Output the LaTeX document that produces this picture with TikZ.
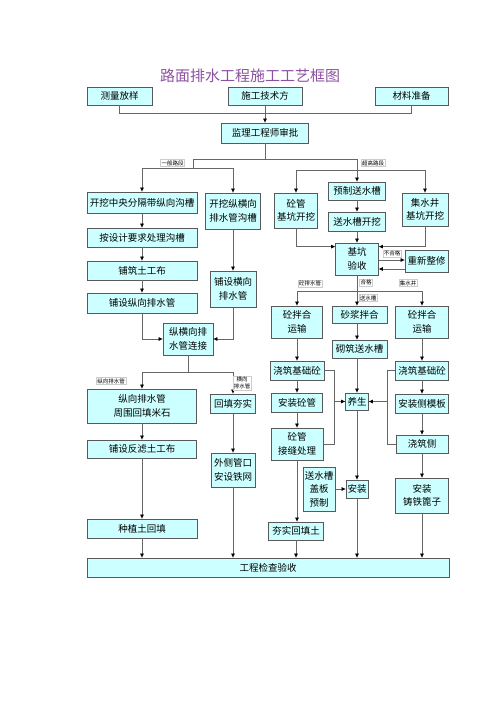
\documentclass[tikz,border=0pt]{standalone}
\usepackage{fontspec}
\usepackage{tikz}
\usetikzlibrary{arrows.meta}
\newfontfamily\cjk{Noto Sans CJK SC}
\definecolor{boxfill}{RGB}{204,255,255}
\definecolor{titlecol}{RGB}{140,80,160}

\begin{document}
\begin{tikzpicture}[x=1pt,y=-1pt,
    box/.style={draw=black!65,fill=boxfill,line width=0.8pt,inner sep=0pt,align=center,
      font=\cjk\fontsize{9.5}{13.5}\selectfont},
    sz/.style 2 args={minimum width=#1pt,minimum height=#2pt},
    lbl/.style={draw=black!20,fill=white,inner sep=1pt,align=center,
      font=\cjk\fontsize{5.5}{6.5}\selectfont},
    ln/.style={draw=black!60,line width=0.7pt},
    arr/.style={ln,-{Triangle[length=4pt,width=3.5pt,color=black]}}]
\useasboundingbox (0,0) rectangle (500,707);

\node[font=\cjk\fontsize{15}{15}\selectfont,text=titlecol] (title) at (250,75.5) {路面排水工程施工工艺框图};

% top row
\node[box,sz={65}{18}] (clfy) at (119.5,96) {测量放样};
\node[box,sz={74}{18}] (jsfa) at (265,96) {施工技术方};
\node[box,sz={73}{18}] (clzb) at (411.5,96) {材料准备};
\node[box,sz={87}{20}] (jlsp) at (265,133) {监理工程师审批};

% left branch
\node[box,sz={110}{21}] (kw1) at (142,202.5) {开挖中央分隔带纵向沟槽};
\node[box,sz={110}{19}] (clgc) at (142,237.5) {按设计要求处理沟槽};
\node[box,sz={110}{19}] (pztg) at (142,270.5) {铺筑土工布};
\node[box,sz={110}{20}] (pszx) at (142,303) {铺设纵向排水管};
\node[box,sz={55}{36}] (kw2) at (233,211) {开挖纵横向\\排水管沟槽};
\node[box,sz={46}{36}] (pshx) at (233,289) {铺设横向\\排水管};
\node[box,sz={50}{32}] (ljie) at (188,339) {纵横向排\\水管连接};
\node[box,sz={109}{34}] (htms) at (142,406) {纵向排水管\\周围回填米石};
\node[box,sz={45}{19}] (hths) at (233,403.5) {回填夯实};
\node[box,sz={109}{18}] (pslf) at (142,449) {铺设反滤土工布};
\node[box,sz={44}{34}] (awtw) at (233,470) {外侧管口\\安设铁网};
\node[box,sz={110}{19}] (zzht) at (142,528.5) {种植土回填};
\node[box,sz={362}{19}] (gcys) at (268,567.5) {工程检查验收};

% right branch
\node[box,sz={43}{35}] (gkkw) at (296,210.5) {砼管\\基坑开挖};
\node[box,sz={57}{18}] (yzss) at (357,191) {预制送水槽};
\node[box,sz={57}{19}] (sskw) at (357,221.5) {送水槽开挖};
\node[box,sz={46}{33}] (jsjk) at (425,209.5) {集水井\\基坑开挖};
\node[box,sz={43}{32}] (jkys) at (357,259) {基坑\\验收};
\node[box,sz={43}{22}] (cxzx) at (426.5,261) {重新整修};
\node[box,sz={51}{32}] (hy1) at (297,322) {砼拌合\\运输};
\node[box,sz={55}{17}] (sjbh) at (359.5,314.5) {砂浆拌合};
\node[box,sz={53}{32}] (hy2) at (422,322) {砼拌合\\运输};
\node[box,sz={55}{18}] (qzss) at (359.5,349) {砌筑送水槽};
\node[box,sz={54}{19}] (jc1) at (297,370.5) {浇筑基础砼};
\node[box,sz={53}{19}] (jc2) at (422,370.5) {浇筑基础砼};
\node[box,sz={51}{19}] (azgg) at (297,402.5) {安装砼管};
\node[box,sz={23}{17}] (yang) at (357,401.5) {养生};
\node[box,sz={53}{19}] (azcm) at (422,403.5) {安装侧模板};
\node[box,sz={52}{32}] (jfcl) at (297,444) {砼管\\接缝处理};
\node[box,sz={52}{18}] (jzcq) at (422,444) {浇筑侧};
\node[box,sz={32}{44}] (gbyz) at (319,489) {送水槽\\盖板\\预制};
\node[box,sz={22}{18}] (anz) at (357,489) {安装};
\node[box,sz={53}{35}] (azbz) at (422,495.5) {安装\\铸铁篦子};
\node[box,sz={55}{18}] (hsht) at (296,531) {夯实回填土};

% top connectors
\draw[ln] (clfy.south) -- ++(0,8) -| (clzb.south);
\draw[arr] (jsfa) -- (jlsp);
\coordinate (fork) at (265,159);
\coordinate (ybl) at (193,159);
\coordinate (cgl) at (357,159);
\coordinate (cg2) at (357,170);
\draw[ln] (jlsp.south) -- (fork);
\draw[ln] (ybl) -- (cgl);
\draw[arr] (ybl) -- ++(0,9) -| (kw1.north);
\draw[arr] (ybl) -- ++(0,9) -| (kw2.north);
\draw[arr] (cgl) -- (yzss.north);
\draw[arr] (cg2) -| (gkkw.north);
\draw[arr] (cg2) -| (jsjk.north);

% left column
\draw[arr] (kw1) -- (clgc);
\draw[arr] (clgc) -- (pztg);
\draw[arr] (pztg) -- (pszx);
\draw[arr] (kw2) -- (pshx);
\draw[arr] (pszx.south) |- (ljie.west);
\draw[arr] (pshx.south) |- (ljie.east);
\draw[ln] (ljie.south) -- ++(0,17) coordinate (lh);
\draw[arr] (lh) -| (htms.north);
\draw[arr] (lh) -| (hths.north);
\draw[arr] (htms) -- (pslf);
\draw[arr] (pslf) -- (zzht);
\draw[arr] (zzht.south) -- (zzht.south |- gcys.north);
\draw[arr] (hths) -- (awtw);
\draw[arr] (awtw.south) -- (awtw.south |- gcys.north);

% right columns
\draw[arr] (yzss) -- (sskw);
\draw[arr] (sskw) -- (jkys);
\draw[arr] (gkkw.south) |- ([yshift=-4pt]jkys.north west);
\draw[arr] (jsjk.south) |- ([yshift=-4pt]jkys.north east);
\draw[arr] ([yshift=-1pt]jkys.east) -- ([yshift=-1pt]jkys.east -| cxzx.west);
\draw[arr] ([yshift=-10pt]jkys.east -| cxzx.west) -- ([yshift=-10pt]jkys.east);
\draw[ln] (jkys.south) -- ++(0,16) coordinate (hg);
\draw[arr] (hg) -| (hy1.north);
\draw[arr] (hg) -| (hy2.north);
\draw[arr] (hg) -- (hg |- sjbh.north);
\draw[arr] (hy1) -- (jc1);
\draw[arr] (jc1) -- (azgg);
\draw[arr] (azgg) -- (jfcl);
\draw[arr] (jfcl.south) -- (jfcl.south |- hsht.north);
\draw[arr] (hsht.south) -- (hsht.south |- gcys.north);
\draw[arr] (sjbh.south -| yang) -- (qzss.north -| yang);
\draw[arr] (qzss.south -| yang) -- (yang.north);
\draw[arr] (yang.south) -- (anz.north);
\draw[arr] (anz.south) -- (anz.south |- gcys.north);
\draw[arr] (gbyz.east) -- (anz.west);
\draw[arr] (hy2) -- (jc2);
\draw[arr] (jc2) -- (azcm);
\draw[arr] (azcm) -- (jzcq);
\draw[arr] (jzcq) -- (azbz);
\draw[arr] (azbz.south) -- (azbz.south |- gcys.north);
\draw[ln] (jc1.east) -- ++(10,0) coordinate (lbt) -- (lbt |- jfcl.east) -- (jfcl.east);
\draw[arr] (lbt |- yang.west) -- (yang.west);
\draw[ln] (jc2.west) -- ++(-8,0) coordinate (rbt) -- (rbt |- jzcq.west) -- (jzcq.west);
\draw[arr] (rbt |- yang.east) -- (yang.east);

% labels
\node[lbl] (lyb) at (172.5,163) {一般路段};
\node[lbl] (lcg) at (373,163) {超高路段};
\node[lbl] (lbhg) at (392,253.5) {不合格};
\node[lbl] (lpsg) at (310,283.5) {砼排水管};
\node[lbl] (lhg) at (366,282.5) {合格};
\node[lbl] (lssc) at (368,298) {送水槽};
\node[lbl] (ljsj) at (408,283) {集水井};
\node[lbl] (lzx) at (111,381) {纵向排水管};
\node[lbl] (lhx) at (242,383) {横向\\排水管};
\end{tikzpicture}
\end{document}
